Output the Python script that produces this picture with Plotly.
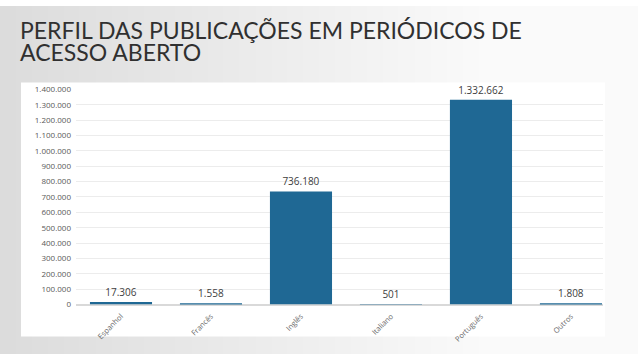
import plotly.graph_objects as go

categories = ["Espanhol", "Francês", "Inglês", "Italiano", "Português", "Outros"]
values = [17306, 1558, 736180, 501, 1332662, 1808]
value_labels = ["17.306", "1.558", "736.180", "501", "1.332.662", "1.808"]
title_lines = ["PERFIL DAS PUBLICAÇÕES EM PERIÓDICOS DE", "ACESSO ABERTO"]

W, H = 638, 359

def px(x):
    return x / W

def py(y):
    return 1 - y / H

shapes = []
# horizontal gradient background (light gray -> near white)
n = 40
for i in range(n):
    t = i / (n - 1)
    c0 = (220, 220, 220)
    c1 = (250, 250, 250)
    f = min(1, t * 1.3)
    c = tuple(int(a + (b - a) * f) for a, b in zip(c0, c1))
    shapes.append(dict(type="rect", xref="paper", yref="paper", layer="below",
                       x0=i / n, x1=(i + 1) / n + 0.002, y0=0, y1=1,
                       fillcolor="rgb(%d,%d,%d)" % c, line=dict(width=0)))
# white chart panel
shapes.append(dict(type="rect", xref="paper", yref="paper", layer="below",
                   x0=px(21), x1=px(605), y0=py(341), y1=py(79),
                   fillcolor="white", line=dict(width=0)))

fig = go.Figure(go.Bar(
    x=categories, y=values, text=value_labels, textposition="outside",
    textfont=dict(size=10, color="#404040", family="Open Sans"),
    marker=dict(color="#1f6894", line=dict(width=0)),
    cliponaxis=False, hoverinfo="skip",
))

annotations = []
for i, line in enumerate(title_lines):
    annotations.append(dict(xref="paper", yref="paper", x=px(18), y=py(8 + 23 * i),
                            xanchor="left", yanchor="top", align="left", showarrow=False,
                            text=line,
                            font=dict(size=23, color="#303030", family="Lato")))

fig.update_layout(
    width=W, height=H,
    margin=dict(l=0, r=0, t=0, b=0),
    paper_bgcolor="rgba(0,0,0,0)", plot_bgcolor="rgba(0,0,0,0)",
    separators=",.",
    bargap=0.31,
    showlegend=False,
    shapes=shapes,
    xaxis=dict(domain=[px(76), px(603)], range=[-0.5, 5.356],
               tickangle=-45, tickfont=dict(size=7.5, color="#6a6a6a", family="Open Sans"),
               showgrid=False, zeroline=False, showline=False, ticks="",
               ticklabelstandoff=5),
    yaxis=dict(domain=[py(308), py(86)], range=[0, 1400000], dtick=100000,
               tickformat=",d", tickfont=dict(size=8, color="#595959", family="Open Sans"),
               gridcolor="#ececec", gridwidth=1, zeroline=True, zerolinecolor="#d9d9d9",
               showline=False, ticks="", ticklabelstandoff=4),
    annotations=annotations,
)

fig.write_html("out.html", config={"displayModeBar": False},
               post_script="document.body.style.margin='0';document.body.style.padding='0';")
